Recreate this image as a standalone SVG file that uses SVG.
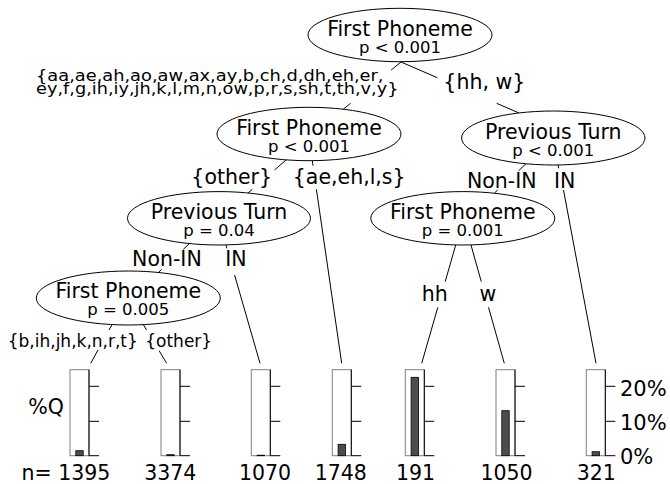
<svg xmlns="http://www.w3.org/2000/svg" width="670" height="484" viewBox="0 0 670 484">
<style>
text{font-family:"DejaVu Sans","Liberation Sans",sans-serif;fill:#000}
.node ellipse{fill:#fff;stroke:#000;stroke-width:1}
.t1{font-size:20.5px;text-anchor:middle}
.t2{font-size:16.5px;text-anchor:middle}
.lbl{font-size:20.5px;text-anchor:middle}
.slbl{font-size:17px;text-anchor:middle}
.big{font-size:16.5px}
#connectors line{stroke:#000;stroke-width:1}
.box{fill:#fff;stroke:#808080;stroke-width:1}
.axis{stroke:#000;stroke-width:1;fill:none}
.bar{fill:#4d4d4d;stroke:#000;stroke-width:0.8}
.num{font-size:20.5px;text-anchor:middle}
.ax{font-size:21px}
</style>
<rect width="670" height="484" fill="#fff"/>
<g id="connectors">
<line x1="401" y1="62" x2="391.2" y2="70"/>
<line x1="350.6" y1="103.3" x2="343" y2="109.5"/>
<line x1="401" y1="62" x2="437.3" y2="77.7"/>
<line x1="496.6" y1="103.3" x2="519" y2="113"/>
<line x1="286" y1="160" x2="274.5" y2="170"/>
<line x1="252.3" y1="189.3" x2="248" y2="193"/>
<line x1="312.3" y1="160.8" x2="313" y2="165.7"/>
<line x1="316.4" y1="189.3" x2="341.7" y2="363.3"/>
<line x1="189.5" y1="243.6" x2="183.3" y2="249.3"/>
<line x1="161.7" y1="269.3" x2="158.3" y2="272.5"/>
<line x1="226" y1="245" x2="226.95" y2="248.3"/>
<line x1="234.6" y1="275" x2="260" y2="363.3"/>
<line x1="112" y1="324.6" x2="109" y2="330"/>
<line x1="98" y1="350" x2="90.7" y2="363.3"/>
<line x1="143.3" y1="324.6" x2="146.6" y2="330"/>
<line x1="159.1" y1="350.7" x2="166.7" y2="363.3"/>
<line x1="526" y1="163.8" x2="518.6" y2="170.7"/>
<line x1="497.7" y1="190" x2="494.3" y2="193.2"/>
<line x1="558" y1="164.9" x2="558.65" y2="168.3"/>
<line x1="563.5" y1="190" x2="596" y2="363.3"/>
<line x1="455.7" y1="245" x2="445.2" y2="281.7"/>
<line x1="437.8" y1="307.3" x2="421.7" y2="363.3"/>
<line x1="471" y1="245" x2="481.3" y2="281.7"/>
<line x1="488.5" y1="307.3" x2="504.3" y2="363.3"/>
<text class="big" x="36" y="81" textLength="347.5" lengthAdjust="spacingAndGlyphs">{aa,ae,ah,ao,aw,ax,ay,b,ch,d,dh,eh,er,</text>
<text class="big" x="36" y="94" textLength="362.5" lengthAdjust="spacingAndGlyphs">ey,f,g,ih,iy,jh,k,l,m,n,ow,p,r,s,sh,t,th,v,y}</text>
<text class="lbl" x="484.3" y="88.5">{hh, w}</text>
<text class="lbl" x="231.7" y="183.5">{other}</text>
<text class="lbl" x="349.2" y="183.5">{ae,eh,l,s}</text>
<text class="lbl" x="166.9" y="266">Non-IN</text>
<text class="lbl" x="236" y="266">IN</text>
<text class="slbl" x="72.8" y="346.5">{b,ih,jh,k,n,r,t}</text>
<text class="slbl" x="178.7" y="346.5">{other}</text>
<text class="lbl" x="501.8" y="188.3">Non-IN</text>
<text class="lbl" x="564.7" y="188.3">IN</text>
<text class="lbl" x="434.7" y="301">hh</text>
<text class="lbl" x="488" y="301">w</text>
</g>
<g id="node1" class="node">
<ellipse cx="400" cy="35" rx="92" ry="26.7"/>
<text class="t1" x="400" y="35.5">First Phoneme</text>
<text class="t2" x="400" y="52.5">p &lt; 0.001</text>
</g>
<g id="node2" class="node">
<ellipse cx="309" cy="134" rx="92" ry="26.7"/>
<text class="t1" x="309" y="134.5">First Phoneme</text>
<text class="t2" x="309" y="151.5">p &lt; 0.001</text>
</g>
<g id="node3" class="node">
<ellipse cx="219" cy="218.3" rx="91.5" ry="26.7"/>
<text class="t1" x="219" y="219">Previous Turn</text>
<text class="t2" x="219" y="236">p = 0.04</text>
</g>
<g id="node4" class="node">
<ellipse cx="128.3" cy="298" rx="92" ry="27"/>
<text class="t1" x="128.3" y="298">First Phoneme</text>
<text class="t2" x="128.3" y="315">p = 0.005</text>
</g>
<g id="node5" class="node">
<ellipse cx="553.3" cy="138" rx="91.7" ry="27"/>
<text class="t1" x="553.3" y="138.5">Previous Turn</text>
<text class="t2" x="553.3" y="155.5">p &lt; 0.001</text>
</g>
<g id="node6" class="node">
<ellipse cx="462.8" cy="218.3" rx="92" ry="26.7"/>
<text class="t1" x="462.8" y="219">First Phoneme</text>
<text class="t2" x="462.8" y="236">p = 0.001</text>
</g>
<g id="leaf1">
<rect class="box" x="70" y="369.7" width="19" height="86"/>
<path class="axis" d="M89 369.7V455.7M89 386.3H99M89 421.3H99M89 455.7H99"/>
<rect class="bar" x="75.8" y="450.7" width="7.4" height="5"/>
<text class="num" x="28.3" y="413.5" style="text-anchor:start">%Q</text>
<text class="num" x="21.5" y="480" style="text-anchor:start">n= 1395</text>
</g>
<g id="leaf2">
<rect class="box" x="161" y="369.7" width="19" height="86"/>
<path class="axis" d="M180 369.7V455.7M180 386.3H190M180 421.3H190M180 455.7H190"/>
<rect class="bar" x="166.8" y="454.7" width="7.4" height="1"/>
<text class="num" x="170.3" y="480">3374</text>
</g>
<g id="leaf3">
<rect class="box" x="251.3" y="369.7" width="19" height="86"/>
<path class="axis" d="M270.3 369.7V455.7M270.3 386.3H280.3M270.3 421.3H280.3M270.3 455.7H280.3"/>
<rect class="bar" x="257.1" y="455.2" width="7.4" height="0.5"/>
<text class="num" x="265" y="480">1070</text>
</g>
<g id="leaf4">
<rect class="box" x="332.3" y="369.7" width="19" height="86"/>
<path class="axis" d="M351.3 369.7V455.7M351.3 386.3H361.3M351.3 421.3H361.3M351.3 455.7H361.3"/>
<rect class="bar" x="338.1" y="444.3" width="7.4" height="11.4"/>
<text class="num" x="340.8" y="480">1748</text>
</g>
<g id="leaf5">
<rect class="box" x="405.3" y="369.7" width="19" height="86"/>
<path class="axis" d="M424.3 369.7V455.7M424.3 386.3H434.3M424.3 421.3H434.3M424.3 455.7H434.3"/>
<rect class="bar" x="411.1" y="377.3" width="7.4" height="78.4"/>
<text class="num" x="415.5" y="480">191</text>
</g>
<g id="leaf6">
<rect class="box" x="496" y="369.7" width="19" height="86"/>
<path class="axis" d="M515 369.7V455.7M515 386.3H525M515 421.3H525M515 455.7H525"/>
<rect class="bar" x="501.8" y="410.7" width="7.4" height="45"/>
<text class="num" x="506.5" y="480">1050</text>
</g>
<g id="leaf7">
<rect class="box" x="586.3" y="369.7" width="19" height="86"/>
<path class="axis" d="M605.3 369.7V455.7M605.3 386.3H615.3M605.3 421.3H615.3M605.3 455.7H615.3"/>
<rect class="bar" x="592.1" y="451.7" width="7.4" height="4"/>
<text class="num" x="596.2" y="480">321</text>
<text class="ax" x="620" y="395.5">20%</text>
<text class="ax" x="620" y="430">10%</text>
<text class="ax" x="620" y="463.5">0%</text>
</g>
</svg>
